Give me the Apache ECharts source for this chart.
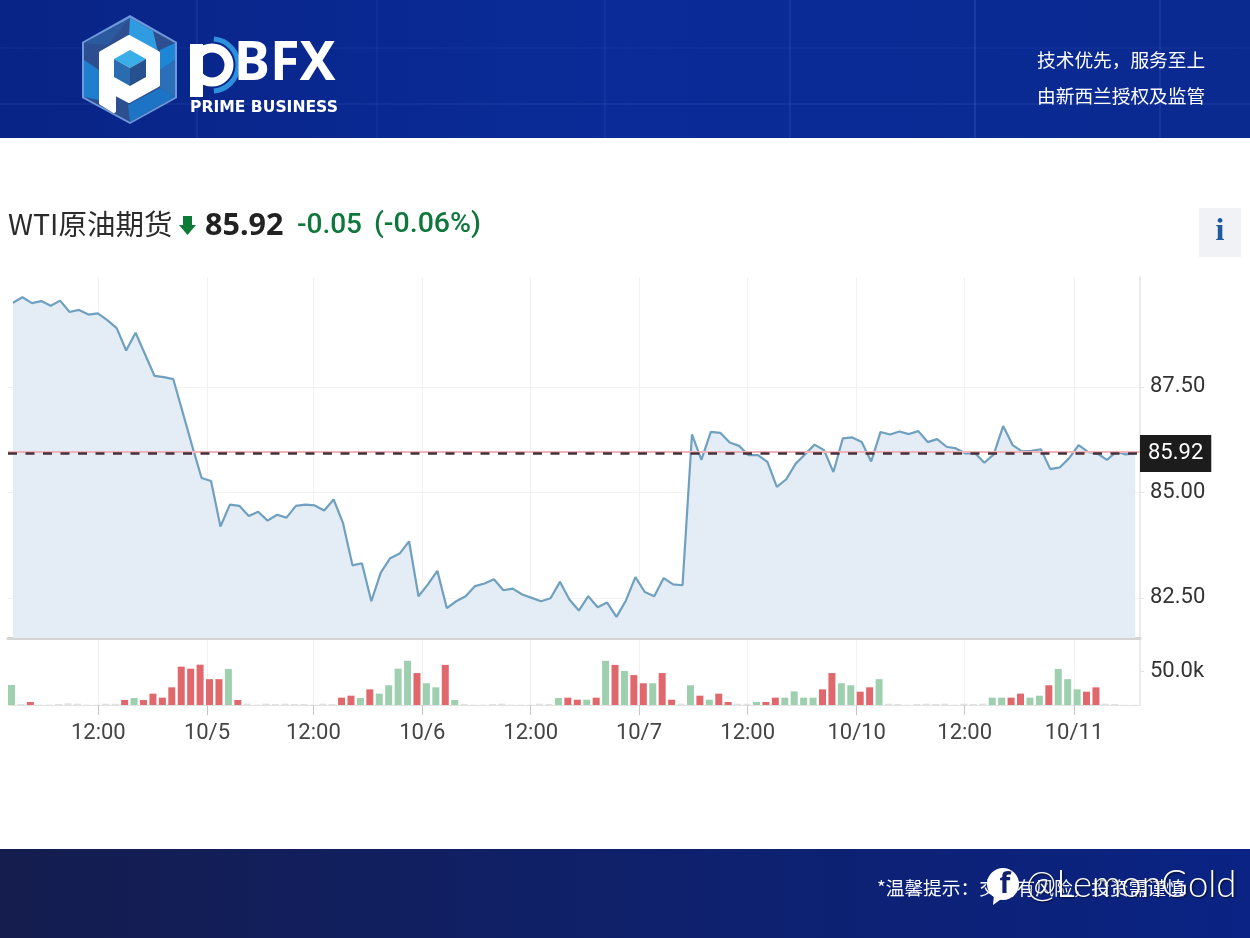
<!DOCTYPE html>
<html>
<head>
<meta charset="utf-8">
<title>WTI原油期货</title>
<style>
  html, body { margin: 0; padding: 0; background: #fff; }
  #chart { width: 1250px; height: 938px; }
</style>
<script src="https://cdn.jsdelivr.net/npm/echarts@6/dist/echarts.min.js"></script>
</head>
<body>
<div id="chart"></div>
<script>
// chart data
const lastPrice = 85.92;
const priceTicks = [82.5, 85, 87.5];
const volumeTicks = [50];
const tickLabels = ['12:00', '10/5', '12:00', '10/6', '12:00', '10/7', '12:00', '10/10', '12:00', '10/11'];
// positions of the time ticks, in units of bars (trading gaps make them not whole)
const tickPositions = [9.05, 20.57, 31.85, 43.40, 54.90, 66.38, 77.91, 89.47, 100.92, 112.51];

const prices = [
  89.49, 89.62, 89.48, 89.53, 89.42, 89.54, 89.27, 89.32, 89.21, 89.24,
  89.08, 88.89, 88.36, 88.78, 88.27, 87.76, 87.73, 87.68, 86.89, 86.10,
  85.34, 85.27, 84.19, 84.71, 84.68, 84.44, 84.54, 84.33, 84.47, 84.40,
  84.68, 84.71, 84.69, 84.57, 84.83, 84.27, 83.27, 83.32, 82.42, 83.10,
  83.44, 83.55, 83.84, 82.54, 82.82, 83.14, 82.26, 82.42, 82.54, 82.78,
  82.84, 82.94, 82.68, 82.72, 82.58, 82.50, 82.42, 82.49, 82.88, 82.46,
  82.20, 82.54, 82.28, 82.39, 82.05, 82.44, 82.99, 82.64, 82.54, 82.97,
  82.82, 82.80, 86.37, 85.77, 86.43, 86.41, 86.18, 86.10, 85.88, 85.88,
  85.72, 85.13, 85.31, 85.68, 85.90, 86.13, 86.00, 85.48, 86.28, 86.30,
  86.19, 85.73, 86.43, 86.37, 86.44, 86.38, 86.45, 86.19, 86.26, 86.08,
  86.04, 85.92, 85.93, 85.70, 85.90, 86.57, 86.12, 85.97, 85.98, 86.02,
  85.55, 85.59, 85.81, 86.12, 85.96, 85.92, 85.77, 85.96, 85.90, 85.92
];

// volume in thousands
const volumes = [
  29.4, 1.5, 4.4, 0.5, 0.5, 1.5, 2.5, 2, 0.5, 0.3,
  2, 2, 7.4, 10.3, 7.4, 16.7, 10.8, 26, 56.4, 53.4,
  59.3, 38, 38, 53, 7.4, 2, 0.5, 2, 1.5, 2,
  1.5, 1.5, 0.5, 2, 1.5, 10.8, 13.7, 10.3, 23, 16.7,
  29, 53.4, 65, 47, 32, 26, 59, 7.4, 1.5, 0.5,
  0.5, 1.5, 2, 0.5, 0.5, 0.5, 2, 1.5, 10.3, 10.8,
  7.8, 7.8, 10.8, 65, 59, 50, 44, 32, 32, 47,
  7.8, 2, 29, 13.7, 7.8, 16.7, 4.4, 2, 2, 4.4,
  4.4, 10.8, 10.8, 20, 10.8, 10.8, 23, 47, 32, 29,
  19.6, 26, 38, 2, 1.5, 0.5, 1.5, 2, 1.5, 2,
  0.5, 2, 1.5, 2, 10.8, 10.8, 10.8, 16.7, 10.8, 13.7,
  29, 53, 38, 23, 19.6, 26, 2, 1.5, 0.3, 0.3
];

// bar colour per volume: g green, r red, n faint
const volumeSides = (
  'gnrnnnnnnn' + 'nnrgrrrrrr' + 'rrrgrnnnnn' + 'nnnnnrrgrg' +
  'gggrggrgnn' + 'nnnnnnnngr' + 'rgrgrgrrgr' + 'rngrgrrnng' +
  'rrggggrrgg' + 'rrgnnnnnnn' + 'nnnnggrrgg' + 'rgggrrnnnn'
).split('');

const sideColors = { g: '#9ed0af', r: '#e0676b', n: '#e2e2e2' };

const fontUI = '"Noto Sans", "Noto Sans CJK SC", sans-serif';
const fontCJK = '"Noto Sans CJK SC", "Noto Sans", sans-serif';
const fontAxis = 'Roboto, "Noto Sans", sans-serif';

// x axis runs from just left of the first bar to the right edge of the plot
const xMin = -0.53;
const xMax = 119.51;
const barShift = 0.16; // the bars sit slightly left of the line points
const barTicks = tickPositions.map(function (v) { return v + barShift; });

function poly(points, fill, z) {
  return { type: 'polygon', shape: { points: points }, style: { fill: fill }, z: z || 10, silent: true };
}
function label(text, x, y, size, color, weight, family, align) {
  return {
    type: 'text', x: x, y: y, z: 20, silent: true,
    style: {
      text: text, fill: color, fontSize: size, fontWeight: weight || 'normal',
      fontFamily: family || fontUI, align: align || 'left', verticalAlign: 'middle'
    }
  };
}
function stripe(x1, y1, x2, y2, alpha) {
  return {
    type: 'line', shape: { x1: x1, y1: y1, x2: x2, y2: y2 }, z: 5, silent: true,
    style: { stroke: 'rgba(150,185,255,' + alpha + ')', lineWidth: 2 }
  };
}

var graphics = [
  // header band
  {
    type: 'rect', shape: { x: 0, y: 0, width: 1250, height: 138 }, z: 1, silent: true,
    style: { fill: new echarts.graphic.LinearGradient(0, 0, 1, 0, [
      { offset: 0, color: '#082486' }, { offset: 0.5, color: '#0a2b98' }, { offset: 1, color: '#0a2a90' }
    ]) }
  },
  stripe(197, 0, 197, 138, 0.09), stripe(377, 0, 377, 138, 0.06), stripe(605, 0, 605, 138, 0.06),
  stripe(790, 0, 790, 138, 0.08), stripe(975, 0, 975, 138, 0.12), stripe(1160, 0, 1160, 138, 0.08),
  stripe(0, 48, 1250, 48, 0.04), stripe(0, 104, 1250, 104, 0.07),

  // logo hexagon
  poly([[130, 15], [177, 42], [177, 98], [130, 124], [82, 98], [82, 42]], '#6f97dc', 6),
  poly([[130, 18], [175, 43], [175, 97], [130, 122], [84, 97], [84, 43]], '#2e4f8f'),
  poly([[130, 18], [153, 31], [158, 52], [129, 35]], '#2f9be0', 11),
  poly([[84, 43], [130, 18], [108, 45]], '#2c5a9e', 11),
  poly([[175, 43], [175, 60], [160, 70], [160, 50]], '#1d86d6', 11),
  poly([[175, 97], [175, 60], [160, 70], [160, 88]], '#2b6fb8', 11),
  poly([[84, 60], [99, 70], [99, 100], [84, 97]], '#1f7fce', 11),
  poly([[130, 122], [160, 105], [175, 97], [160, 88], [128, 105]], '#1e74c4', 11),
  {
    type: 'polygon', z: 12, silent: true,
    shape: { points: [[129, 37], [158, 53], [158, 85], [129, 101], [114, 93], [114, 111], [101, 103], [101, 53]] },
    style: { fill: '#fff', stroke: '#fff', lineWidth: 4, lineJoin: 'round' }
  },
  poly([[130, 50], [146, 59], [130, 68], [114, 59]], '#3aaee8', 13),
  poly([[114, 59], [130, 68], [130, 86], [114, 77]], '#2b6cb0', 13),
  poly([[146, 59], [130, 68], [130, 86], [146, 77]], '#27508f', 13),

  // logo lettering
  { type: 'arc', shape: { cx: 212, cy: 65, r: 26, startAngle: -1.5, endAngle: 1.5 }, z: 12, silent: true,
    style: { stroke: '#2e8fdc', lineWidth: 5, fill: null } },
  { type: 'circle', shape: { cx: 212, cy: 65, r: 17 }, z: 13, silent: true,
    style: { stroke: '#fff', lineWidth: 9, fill: 'none' } },
  { type: 'rect', shape: { x: 190, y: 44, width: 13, height: 53 }, z: 14, silent: true, style: { fill: '#fff' } },
  label('BFX', 234, 65, 54, '#fff', 'bold'),
  label('PRIME BUSINESS', 190, 108, 15.6, '#fff', 'bold', '"DejaVu Sans", sans-serif'),

  // header slogan
  label('技术优先，服务至上', 1037, 60, 18.7, '#fff', 'normal', fontCJK),
  label('由新西兰授权及监管', 1037, 96, 18.7, '#fff', 'normal', fontCJK),

  // quote line
  label('WTI原油期货', 8, 224, 28.5, '#2b2b2b', 'normal', fontCJK),
  poly([[183, 216], [192, 216], [192, 225], [196, 225], [187.5, 235], [179, 225], [183, 225]], '#0d7a35'),
  label('85.92', 205, 226, 30.5, '#222', 'bold'),
  label('-0.05', 297, 226, 28, '#10773c', '500', fontAxis),
  label('(-0.06%)', 374, 225, 28.5, '#10773c', '500', fontAxis),

  // info button
  { type: 'rect', shape: { x: 1199, y: 208, width: 42, height: 49 }, z: 10, silent: true, style: { fill: '#f0f2f5' } },
  label('i', 1220, 232, 32, '#1f5a9e', 'bold', '"Liberation Serif", serif', 'center'),

  // footer band
  {
    type: 'rect', shape: { x: 0, y: 849, width: 1250, height: 89 }, z: 1, silent: true,
    style: { fill: new echarts.graphic.LinearGradient(0, 0, 1, 0, [
      { offset: 0, color: '#151d4e' }, { offset: 0.6, color: '#0e2170' }, { offset: 1, color: '#0a2384' }
    ]) }
  },
  label('*温馨提示：交易有风险，投资需谨慎', 877, 888, 18.7, '#fff', 'normal', fontCJK),

  // watermark
  { type: 'circle', shape: { cx: 1003, cy: 884, r: 16 }, z: 30, silent: true, style: { fill: '#fff' } },
  poly([[994, 895], [1004, 897], [993, 905]], '#fff', 30),
  { type: 'text', x: 1005, y: 885, z: 31, silent: true,
    style: { text: 'f', fill: '#10226e', fontSize: 28, fontWeight: 'bold', fontFamily: fontUI, align: 'center', verticalAlign: 'middle' } },
  { type: 'text', x: 1026, y: 885, z: 31, silent: true,
    style: { text: '@LemonGold', fill: '#fff', fontSize: 36.5, fontWeight: 300, fontFamily: 'Lato, "Open Sans", sans-serif',
      verticalAlign: 'middle', textShadowColor: 'rgba(0,0,0,0.7)', textShadowBlur: 2, textShadowOffsetX: 1, textShadowOffsetY: 1 } }
];

var chart = echarts.init(document.getElementById('chart'));

var option = {
  animation: false,
  backgroundColor: '#fff',
  graphic: graphics,
  grid: [
    { left: 8, top: 277, width: 1132, height: 361 },
    { left: 8, top: 640, width: 1132, height: 65 }
  ],
  xAxis: [
    {
      type: 'value', gridIndex: 0, min: xMin, max: xMax,
      axisLine: { show: true, onZero: false, lineStyle: { color: '#d4d4d4', width: 3 } },
      axisTick: { show: false, customValues: tickPositions },
      axisLabel: { show: false, customValues: tickPositions },
      splitLine: { show: true, lineStyle: { color: '#f1f1f1', width: 1 } }
    },
    {
      type: 'value', gridIndex: 1, min: xMin + barShift, max: xMax + barShift,
      axisLine: { show: true, onZero: false, lineStyle: { color: '#e2e2e2', width: 1 } },
      axisTick: { show: true, inside: false, length: 10, customValues: barTicks, lineStyle: { color: '#c8c8c8', width: 1 } },
      axisLabel: {
        show: true, margin: 17, fontSize: 22, color: '#444', fontFamily: fontAxis,
        customValues: barTicks,
        formatter: function (value) {
          return tickLabels[barTicks.findIndex(function (p) { return Math.abs(p - value) < 0.01; })];
        }
      },
      splitLine: { show: true, lineStyle: { color: '#f1f1f1', width: 1 } }
    }
  ],
  yAxis: [
    {
      type: 'value', gridIndex: 0, position: 'right', min: 81.55, max: 90.1,
      axisLine: { show: true, onZero: false, lineStyle: { color: '#e4e4e4', width: 1.5 } },
      axisTick: { show: true, length: 4, customValues: priceTicks, lineStyle: { color: '#e4e4e4' } },
      axisLabel: {
        show: true, margin: 10, fontSize: 22, color: '#333', fontFamily: fontAxis,
        customValues: priceTicks,
        formatter: function (v) { return v.toFixed(2); }
      },
      splitLine: { show: true, lineStyle: { color: '#f1f1f1', width: 1 } }
    },
    {
      type: 'value', gridIndex: 1, position: 'right', min: 0, max: 95.6,
      axisLine: { show: true, onZero: false, lineStyle: { color: '#e4e4e4', width: 1.5 } },
      axisTick: { show: true, length: 4, customValues: volumeTicks, lineStyle: { color: '#e4e4e4' } },
      axisLabel: {
        show: true, margin: 10, fontSize: 22, color: '#333', fontFamily: fontAxis,
        customValues: volumeTicks,
        formatter: function (v) { return v.toFixed(1) + 'k'; }
      },
      splitLine: { show: false }
    }
  ],
  series: [
    {
      name: 'WTI',
      type: 'line',
      xAxisIndex: 0,
      yAxisIndex: 0,
      symbol: 'none',
      lineStyle: { color: '#6fa0bf', width: 2.2 },
      areaStyle: { color: '#e4edf5', opacity: 1, origin: 'start' },
      data: prices.map(function (p, i) { return [i, p]; }),
      markLine: {
        silent: true,
        symbol: 'none',
        animation: false,
        data: [
          {
            yAxis: lastPrice + 0.04,
            lineStyle: { color: '#f0b4b9', width: 2, type: 'solid' },
            label: { show: false }
          },
          {
            yAxis: lastPrice,
            lineStyle: { color: '#45303a', width: 2.5, type: [9, 8.5] },
            label: {
              show: true, position: 'end', distance: 0, formatter: lastPrice.toFixed(2),
              backgroundColor: '#1c1c1c', color: '#fff', fontSize: 22, fontFamily: fontAxis,
              padding: [9, 8, 6, 8]
            }
          }
        ]
      }
    },
    {
      name: 'Volume',
      type: 'bar',
      xAxisIndex: 1,
      yAxisIndex: 1,
      barWidth: 7,
      itemStyle: {
        color: function (params) { return sideColors[volumeSides[params.dataIndex]]; }
      },
      data: volumes.map(function (v, i) { return [i, v]; })
    }
  ]
};

option && chart.setOption(option);
</script>
</body>
</html>
